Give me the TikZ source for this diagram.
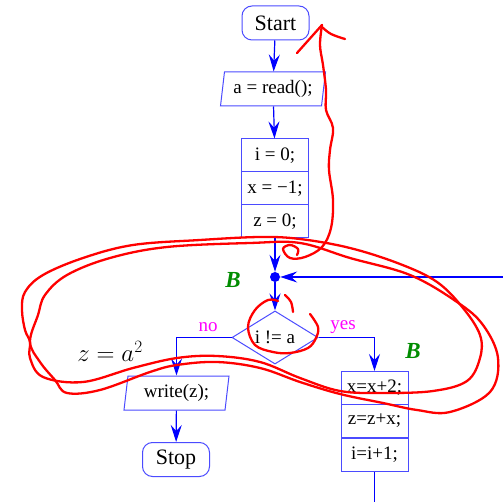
\documentclass[tikz,border=0pt]{standalone}
\usepackage{fontspec}
\setmainfont{Liberation Serif}
\usepackage{amsmath}
\usetikzlibrary{shapes.geometric, arrows.meta}
\definecolor{fcArrow}{HTML}{0000FF}
\definecolor{fcFrame}{HTML}{4B4BFF}
\definecolor{fcLabel}{HTML}{FF00FF}
\definecolor{fcBlock}{HTML}{008C00}
\definecolor{fcPen}{HTML}{FF0000}

\tikzset{
    box/.style={draw=fcFrame, line width=1pt, minimum width=67pt, minimum height=33pt,
        inner sep=0pt, font=\fontsize{19}{21}\selectfont},
    term/.style={box, rounded corners=10pt, minimum height=34pt, font=\fontsize{22}{24}\selectfont},
    io/.style={box, trapezium, trapezium left angle=77, trapezium right angle=103,
        trapezium stretches body, minimum width=105pt, minimum height=34pt},
    test/.style={box, diamond, minimum width=86pt, minimum height=45pt},
    flow/.style={fcArrow, line width=1.2pt, -{Stealth[length=17pt,width=11pt,inset=6pt]}},
    link/.style={fcArrow, line width=1.2pt},
    branch/.style={fcLabel, font=\fontsize{19}{21}\selectfont},
    block/.style={fcBlock, font=\fontsize{23}{25}\bfseries\itshape},
    pen/.style={fcPen, line width=2.3pt, line cap=round, line join=round},
}

\begin{document}
\begin{tikzpicture}[x=1pt, y=-1pt]
    \useasboundingbox (0,0) rectangle (503,502);

    \node[term] (start) at (275.5,23) {Start};
    \node[io] (read) at (273,89) {a = read();};
    \node[box] (init1) at (275,155.5) {i = 0;};
    \node[box] (init2) at (275,188.5) {x = −1;};
    \node[box] (init3) at (275,221.5) {z = 0;};
    \node[circle, fill=fcArrow, inner sep=0pt, minimum size=10pt] (join) at (275,277) {};
    \node[test] (cond) at (275,337.5) {i != a};
    \node[io] (write) at (176.5,393) {write(z);};
    \node[term] (stop) at (176,459.5) {Stop};
    \node[box] (body1) at (374.5,388) {x=x+2;};
    \node[box] (body2) at (374.5,421) {z=z+x;};
    \node[box] (body3) at (374.5,454.5) {i=i+1;};
    \coordinate (back) at (503,277);
    \coordinate (out) at (374.5,502);

    \draw[flow] (start) -- (read);
    \draw[flow] (read) -- (init1);
    \draw[flow] (init3) -- (join);
    \draw[flow] (back) -- (join);
    \draw[flow] (join) -- (cond);
    \draw[flow] (cond.west) -| (write.north);
    \draw[flow] (cond.east) -| (body1.north);
    \draw[flow] (write) -- (stop);
    \draw[link] (body3) -- (out);

    \node[branch] (no) at (208,327) {no};
    \node[branch] (yes) at (343,327) {yes};
    \node[block] (blockA) at (233,280) {B};
    \node[block] (blockB) at (413,351) {B};
    \node[font=\fontsize{24}{26}\selectfont] (post) at (110,351) {$z = a^2$};

    % hand-drawn marks
    \draw[pen] plot[smooth, tension=0.6] coordinates {(297,255) (298,249) (290,245) (283,249)
        (290,258) (305,257) (322,247) (331,228) (333,200) (329,170) (330,150) (333,128)
        (326,110) (326,90) (323,65) (320,45) (322,25)};
    \draw[pen] (297,53) -- (322,25);
    \draw[pen] plot[smooth, tension=0.6] coordinates {(322,27) (331,34) (345,39)};
    \draw[pen] plot[smooth, tension=0.6] coordinates {(285,295) (291,302) (293,312)};
    \draw[pen] plot[smooth, tension=0.6] coordinates {(278,301) (268,300) (255,310)
        (248,327) (255,345) (273,352) (290,353) (308,348) (316,338) (318,327) (310,314)};
    \draw[pen] plot[smooth cycle, tension=0.6] coordinates {(300,239) (260,237) (200,240)
        (133,245) (83,258) (43,275) (25,292) (22,310) (25,330) (30,342) (30,358) (43,377)
        (83,382) (133,368) (177,358) (217,356) (260,362) (300,378) (340,391) (383,393)
        (433,391) (467,381) (480,358) (480,335) (463,308) (437,282) (400,264) (350,248)};
    \draw[pen] plot[smooth cycle, tension=0.6] coordinates {(300,243) (250,243) (167,247)
        (110,258) (67,275) (45,295) (38,315) (30,342) (40,362) (55,380) (67,393) (100,390)
        (150,372) (177,365) (217,362) (260,368) (300,382) (340,394) (383,403) (417,410)
        (450,412) (490,392) (498,358) (483,325) (457,302) (410,275) (350,258)};
\end{tikzpicture}
\end{document}
